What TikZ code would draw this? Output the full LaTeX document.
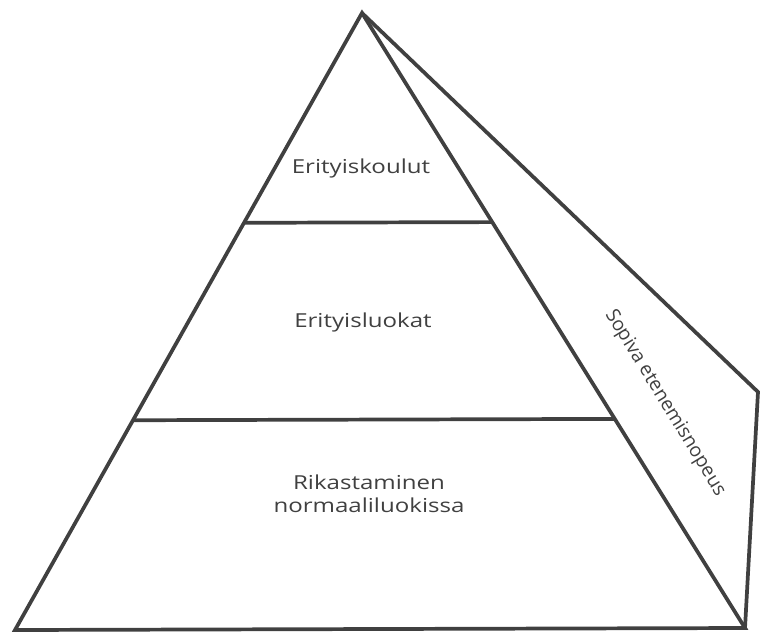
\documentclass[tikz,border=0pt]{standalone}
\usepackage{fontspec}
\setmainfont{Open Sans}
\usepackage{tikz}
\usetikzlibrary{calc}
\usetikzlibrary{positioning}
\definecolor{inkgray}{gray}{0.25}

\begin{document}
\begin{tikzpicture}[x=0.02646cm, y=-0.02646cm,
    edge/.style={draw=inkgray, line width=2.8pt, line join=miter},
    label/.style={text=inkgray, font=\fontsize{14.5}{17.5}\selectfont, align=center}]
          \useasboundingbox (0,0) rectangle (760,634);

          \coordinate (apex) at (362,13);
          \coordinate (bl)   at (15,630);
          \coordinate (br)   at (745,628);
          \coordinate (far)  at (758,392);
          \coordinate (l1) at ($(apex)!0.34!(bl)$);
          \coordinate (r1) at ($(apex)!0.34!(br)$);
          \coordinate (l2) at ($(apex)!0.66!(bl)$);
          \coordinate (r2) at ($(apex)!0.66!(br)$);

          % Draw the pyramid
          \draw[edge] (apex) -- (bl) -- (br) -- cycle;
          \draw[edge] (apex) -- (far) -- (br);
          \draw[edge] (l1) -- (r1);
          \draw[edge] (l2) -- (r2);

          % Labels
          \node[label, xscale=1.25] (schools) at (361,168) {Erityiskoulut};
          \node[label, xscale=1.25] (classes) at (363,322) {Erityisluokat};
          \node[label, xscale=1.25] (normal)  at (369,494) {Rikastaminen\\normaaliluokissa};
          \node[label, rotate=-58.6] (pace) at (665,403) {Sopiva etenemisnopeus};
      \end{tikzpicture}
\end{document}
